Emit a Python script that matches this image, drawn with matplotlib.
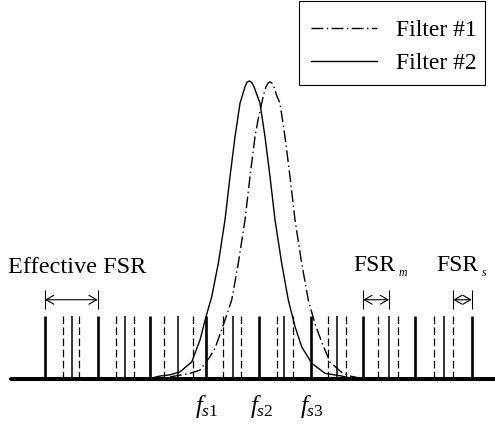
import numpy as np
import matplotlib
matplotlib.use("Agg")
import matplotlib.pyplot as plt
from matplotlib.patches import Rectangle

plt.rcParams['font.family'] = ['Liberation Serif', 'DejaVu Serif']
plt.rcParams['mathtext.fontset'] = 'custom'
plt.rcParams['mathtext.rm'] = 'Liberation Serif'
plt.rcParams['mathtext.it'] = 'Liberation Serif:italic'
plt.rcParams['lines.scale_dashes'] = False

# comb of channels (frequency in arbitrary units)
thick_f = [45, 97.7, 150, 206, 259, 310.7, 363.3, 415, 471.7]
thin_f = [71.7, 125, 178.3, 232.7, 284, 336.7, 389, 444]
dashed_f = [62.7, 79, 116, 133.7, 164.3, 192.7, 223.3, 241, 276.7, 292.7,
            328.3, 345.7, 377.7, 397.7, 434, 453.3]
comb_h = 0.21

# filter #1 (dash-dot) response
f1_x = [170, 180, 190, 200, 210, 215, 223.3, 231.7, 238.3, 245, 250, 255, 258,
        261.7, 263.5, 266, 268, 270, 272, 274, 276.5, 280, 282.5, 285, 290, 295,
        301.7, 308.3, 315, 321.7, 330, 341.7, 350, 360]
f1_y = [0.007, 0.013, 0.019, 0.030, 0.075, 0.103, 0.181, 0.265, 0.388, 0.534,
        0.679, 0.813, 0.869, 0.925, 0.953, 0.981, 0.993, 0.997, 0.993, 0.981,
        0.953, 0.925, 0.869, 0.813, 0.679, 0.534, 0.388, 0.265, 0.185, 0.124,
        0.057, 0.022, 0.010, 0.003]

# filter #2 (solid) response
f2_x = [150, 160, 170, 180, 191.7, 200, 206, 211.7, 218.3, 225, 230, 235, 237.5,
        240, 242.5, 245, 247, 249.3, 251.5, 254, 257, 260, 262.5, 265, 270, 275,
        281.7, 288.3, 295, 301.7, 311.7, 325, 341.7, 350]
f2_y = [0.002, 0.010, 0.014, 0.024, 0.057, 0.131, 0.209, 0.276, 0.388, 0.534,
        0.679, 0.813, 0.869, 0.925, 0.953, 0.981, 0.996, 1.000, 0.996, 0.981,
        0.953, 0.925, 0.869, 0.813, 0.679, 0.534, 0.388, 0.265, 0.176, 0.108,
        0.053, 0.019, 0.010, 0.003]

fs_labels = [r'$f_{s1}$', r'$f_{s2}$', r'$f_{s3}$']

fig = plt.figure(figsize=(4.95, 4.30), dpi=100)
ax = fig.add_axes([0, 0, 1, 1])
ax.set_xlim(0, 495)
ax.set_ylim(-0.1711, 1.2718)
ax.axis('off')

# comb lines
ax.vlines(thick_f, 0, comb_h, color='black', lw=1.9)
ax.vlines(thin_f, 0, comb_h, color='black', lw=1.1)
ax.vlines(dashed_f, 0, comb_h, color='black', lw=0.9, linestyles=(0, (5.5, 2.5)))

# filters
ax.plot(f1_x, f1_y, color='black', lw=1.0, dashes=(8.5, 2.5, 1, 2.5), label='Filter #1')
ax.plot(f2_x, f2_y, color='black', lw=1.0, label='Filter #2')

# baseline
ax.plot([11, 495], [0, 0], color='black', lw=2.9, solid_capstyle='round')

# FSR markers
spans = [(thick_f[0], thick_f[1]), (thick_f[6], thin_f[6]), (dashed_f[15], thick_f[8])]
arr_y = 0.266
for x0, x1 in spans:
    ax.annotate('', xy=(x1, arr_y), xytext=(x0, arr_y),
                arrowprops=dict(arrowstyle='<->,head_length=0.55,head_width=0.32',
                                lw=0.8, color='black', shrinkA=0, shrinkB=0,
                                mutation_scale=10))
    ax.vlines([x0, x1], arr_y - 0.032, arr_y + 0.032, color='black', lw=0.8)

ax.text(8, 0.356, 'Effective FSR', fontsize=17.5, ha='left', va='baseline')
for x, sub in [(353.3, 'm'), (436.7, 's')]:
    t = ax.text(x, 0.363, 'FSR', fontsize=17, ha='left', va='baseline')
    ax.annotate(sub, xy=(1, 0), xycoords=t, xytext=(2, 0), textcoords='offset points',
                fontsize=8.5, fontstyle='italic', ha='left', va='baseline')

for x, lab in zip([207, 262, 312], fs_labels):
    ax.text(x, -0.115, lab, fontsize=18, ha='center', va='baseline')

leg = ax.legend(loc='upper right', bbox_to_anchor=(487 / 495, 1 - 9 / 430),
                fontsize=17, frameon=False, borderpad=0.45, labelspacing=0.47,
                handlelength=2.8, handletextpad=0.8, borderaxespad=0)
# legend frame
ax.add_patch(Rectangle((0.604, 0.802), 0.376, 0.196, transform=ax.transAxes,
                       fill=False, edgecolor='black', lw=0.8))

fig.savefig('out.png', dpi=100)
